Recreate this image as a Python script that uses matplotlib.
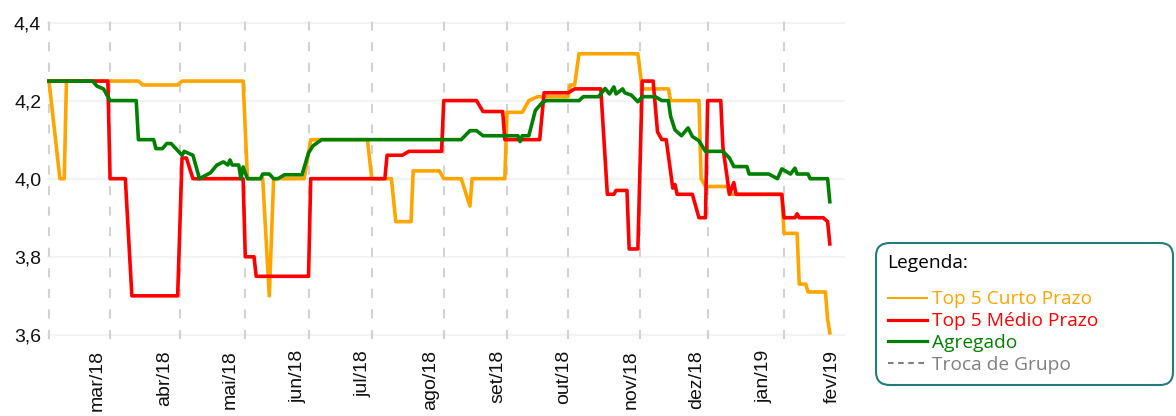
import datetime

import matplotlib
matplotlib.use('Agg')
from matplotlib import pyplot as plt
from matplotlib.lines import Line2D
from matplotlib.ticker import FuncFormatter

# Top 5 Curto Prazo
curto_datas = ['2018-02-07', '2018-02-12', '2018-02-14', '2018-02-15', '2018-03-20', '2018-03-22',
               '2018-04-07', '2018-04-09', '2018-05-07', '2018-05-09', '2018-05-16', '2018-05-19',
               '2018-05-21', '2018-06-04', '2018-06-07', '2018-07-03', '2018-07-05', '2018-07-14',
               '2018-07-16', '2018-07-23', '2018-07-24', '2018-08-05', '2018-08-07', '2018-08-15',
               '2018-08-19', '2018-08-20', '2018-09-04', '2018-09-05', '2018-09-12', '2018-09-15',
               '2018-09-19', '2018-10-03', '2018-10-04', '2018-10-06', '2018-10-08', '2018-11-04',
               '2018-11-06', '2018-11-18', '2018-11-19', '2018-12-02', '2018-12-03', '2018-12-05',
               '2018-12-15', '2018-12-16', '2019-01-09', '2019-01-10', '2019-01-16', '2019-01-17',
               '2019-01-20', '2019-01-21', '2019-01-29', '2019-01-30', '2019-01-31']
curto_valores = [4.25, 4.00, 4.00, 4.25, 4.25, 4.24,
                 4.24, 4.25, 4.25, 4.00, 4.00, 3.70,
                 4.00, 4.00, 4.10, 4.10, 4.00, 4.00,
                 3.89, 3.89, 4.02, 4.02, 4.00, 4.00,
                 3.93, 4.00, 4.00, 4.17, 4.17, 4.20,
                 4.21, 4.21, 4.24, 4.24, 4.32, 4.32,
                 4.23, 4.23, 4.20, 4.20, 4.00, 3.98,
                 3.98, 3.96, 3.96, 3.86, 3.86, 3.73,
                 3.73, 3.71, 3.71, 3.64, 3.605]

# Top 5 Medio Prazo
medio_datas = ['2018-02-07', '2018-03-06', '2018-03-07', '2018-03-14', '2018-03-17', '2018-04-07',
               '2018-04-09', '2018-04-11', '2018-04-14', '2018-05-07', '2018-05-08', '2018-05-12',
               '2018-05-13', '2018-06-06', '2018-06-07', '2018-07-11', '2018-07-12', '2018-07-19',
               '2018-07-22', '2018-08-06', '2018-08-07', '2018-08-22', '2018-08-25', '2018-09-03',
               '2018-09-04', '2018-09-20', '2018-09-22', '2018-10-03', '2018-10-06', '2018-10-18',
               '2018-10-21', '2018-10-24', '2018-10-25', '2018-10-30', '2018-10-31', '2018-11-04',
               '2018-11-06', '2018-11-11', '2018-11-13', '2018-11-15', '2018-11-17', '2018-11-20',
               '2018-11-21', '2018-11-22', '2018-11-29', '2018-12-02', '2018-12-05', '2018-12-06',
               '2018-12-12', '2018-12-13', '2018-12-16', '2018-12-18', '2018-12-19', '2019-01-09',
               '2019-01-10', '2019-01-15', '2019-01-16', '2019-01-17', '2019-01-28', '2019-01-30',
               '2019-01-31']
medio_valores = [4.25, 4.25, 4.00, 4.00, 3.70, 3.70,
                 4.053, 4.053, 4.00, 4.00, 3.80, 3.80,
                 3.75, 3.75, 4.00, 4.00, 4.06, 4.06,
                 4.07, 4.07, 4.20, 4.20, 4.172, 4.172,
                 4.10, 4.10, 4.22, 4.22, 4.23, 4.23,
                 3.96, 3.96, 3.97, 3.97, 3.82, 3.82,
                 4.25, 4.25, 4.12, 4.10, 4.10, 3.976,
                 3.985, 3.96, 3.96, 3.90, 3.90, 4.20,
                 4.20, 4.08, 3.96, 3.99, 3.96, 3.96,
                 3.90, 3.90, 3.91, 3.90, 3.90, 3.89,
                 3.833]

# Agregado
agregado_datas = ['2018-02-07', '2018-02-27', '2018-03-01', '2018-03-04', '2018-03-07', '2018-03-19',
                  '2018-03-20', '2018-03-27', '2018-03-28', '2018-03-31', '2018-04-02', '2018-04-04',
                  '2018-04-09', '2018-04-10', '2018-04-14', '2018-04-17', '2018-04-22', '2018-04-25',
                  '2018-04-28', '2018-04-30', '2018-05-01', '2018-05-02', '2018-05-05', '2018-05-06',
                  '2018-05-07', '2018-05-09', '2018-05-15', '2018-05-16', '2018-05-19', '2018-05-21',
                  '2018-05-23', '2018-05-26', '2018-06-03', '2018-06-06', '2018-06-08', '2018-06-10',
                  '2018-06-12', '2018-08-15', '2018-08-19', '2018-08-22', '2018-08-25', '2018-09-10',
                  '2018-09-11', '2018-09-12', '2018-09-15', '2018-09-18', '2018-09-21', '2018-09-23',
                  '2018-10-08', '2018-10-10', '2018-10-17', '2018-10-20', '2018-10-22', '2018-10-24',
                  '2018-10-25', '2018-10-28', '2018-10-29', '2018-11-01', '2018-11-04', '2018-11-06',
                  '2018-11-12', '2018-11-15', '2018-11-18', '2018-11-19', '2018-11-21', '2018-11-24',
                  '2018-11-27', '2018-11-29', '2018-12-02', '2018-12-05', '2018-12-13', '2018-12-16',
                  '2018-12-18', '2018-12-24', '2018-12-25', '2019-01-03', '2019-01-07', '2019-01-09',
                  '2019-01-13', '2019-01-15', '2019-01-16', '2019-01-21', '2019-01-22', '2019-01-30',
                  '2019-01-31']
agregado_valores = [4.25, 4.25, 4.237, 4.23, 4.20, 4.20,
                    4.10, 4.10, 4.077, 4.077, 4.09, 4.09,
                    4.06, 4.07, 4.06, 4.00, 4.015, 4.035,
                    4.043, 4.035, 4.048, 4.035, 4.035, 4.00,
                    4.03, 4.00, 4.00, 4.012, 4.012, 4.00,
                    4.00, 4.01, 4.01, 4.066, 4.084, 4.092,
                    4.10, 4.10, 4.123, 4.123, 4.11, 4.11,
                    4.095, 4.11, 4.11, 4.175, 4.194, 4.20,
                    4.20, 4.21, 4.21, 4.231, 4.217, 4.235,
                    4.217, 4.23, 4.22, 4.214, 4.197, 4.21,
                    4.21, 4.20, 4.20, 4.16, 4.125, 4.11,
                    4.13, 4.108, 4.097, 4.07, 4.07, 4.053,
                    4.031, 4.031, 4.012, 4.012, 4.00, 4.025,
                    4.012, 4.027, 4.012, 4.012, 4.00, 4.00,
                    3.941]

# Troca de Grupo
troca_grupo = ['2018-02-07', '2018-03-07', '2018-04-08', '2018-05-08', '2018-06-06', '2018-07-05',
               '2018-08-07', '2018-09-05', '2018-10-03', '2018-11-05', '2018-12-06', '2019-01-10']

meses = ['2018-03-01', '2018-04-01', '2018-05-01', '2018-06-01', '2018-07-01', '2018-08-01',
         '2018-09-01', '2018-10-01', '2018-11-01', '2018-12-01', '2019-01-01', '2019-02-01']
meses_rotulos = ['mar/18', 'abr/18', 'mai/18', 'jun/18', 'jul/18', 'ago/18',
                 'set/18', 'out/18', 'nov/18', 'dez/18', 'jan/19', 'fev/19']


def to_dates(lista):
    return [datetime.date.fromisoformat(d) for d in lista]


plt.rcParams['lines.scale_dashes'] = False

fig = plt.figure(figsize=(11.76, 4.16), dpi=100)
ax = fig.add_axes([0.0398, 0.1856, 0.6788, 0.7697])

for d in to_dates(troca_grupo):
    ax.axvline(d, color='#d2d2d2', linewidth=1.5, dashes=(6.5, 8.3), zorder=1)

ax.plot(to_dates(curto_datas), curto_valores, color='orange', linewidth=2.6, zorder=3)
ax.plot(to_dates(medio_datas), medio_valores, color='red', linewidth=2.6, zorder=4)
ax.plot(to_dates(agregado_datas), agregado_valores, color='green', linewidth=2.6, zorder=5)

ax.set_xlim(datetime.date(2018, 2, 6), datetime.date(2019, 2, 7))
ax.set_ylim(3.59, 4.41)

ax.set_yticks([3.6, 3.8, 4.0, 4.2, 4.4])
ax.yaxis.set_major_formatter(FuncFormatter(lambda v, p: '{:.1f}'.format(v).replace('.', ',')))
ax.set_xticks(to_dates(meses))
ax.set_xticklabels(meses_rotulos, rotation=90)

for lbl in ax.get_xticklabels() + ax.get_yticklabels():
    lbl.set_fontfamily('Liberation Sans')
    lbl.set_fontsize(14)
    lbl.set_color('#111111')

ax.tick_params(axis='both', length=0)
ax.tick_params(axis='x', pad=8)
ax.tick_params(axis='y', pad=4)

ax.yaxis.grid(True, color='#f3f3f3', linewidth=1.5)
ax.set_axisbelow(True)
for s in ax.spines.values():
    s.set_visible(False)

handles = [Line2D([], [], color='orange', linewidth=1.5),
           Line2D([], [], color='red', linewidth=2.3),
           Line2D([], [], color='green', linewidth=2.3),
           Line2D([], [], color='gray', linewidth=1.5, dashes=(4, 3.3))]
labels = ['Top 5 Curto Prazo', 'Top 5 Médio Prazo', 'Agregado', 'Troca de Grupo']

leg = fig.legend(handles, labels, loc='upper left', bbox_to_anchor=(0.745, 0.067, 0.2525, 0.349),
                 mode='expand', borderaxespad=0, title='Legenda:', alignment='left',
                 labelcolor='linecolor', prop={'family': 'Open Sans', 'size': 13.8},
                 title_fontproperties={'family': 'Open Sans', 'size': 13.8},
                 handlelength=2.05, handletextpad=0.27, labelspacing=0.2, borderpad=0.6,
                 frameon=True, fancybox=True, framealpha=1, edgecolor='#237b7b')
leg.get_frame().set_linewidth(1.5)
leg.get_frame().set_boxstyle('round', pad=0, rounding_size=0.7)
leg._legend_box.sep = 13

plt.savefig('out.png', dpi=100)
